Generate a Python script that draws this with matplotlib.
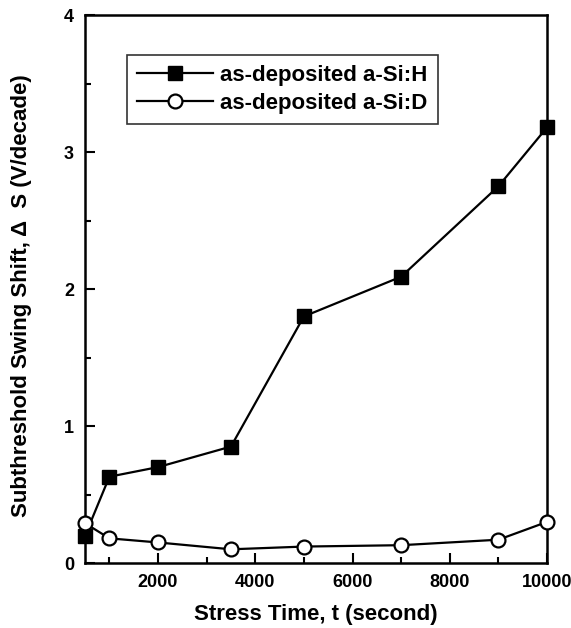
import matplotlib
matplotlib.use('Agg')
import matplotlib.pyplot as plt
from matplotlib.ticker import MultipleLocator

plt.rcParams['font.family'] = ['Liberation Sans', 'DejaVu Sans']
plt.rcParams['font.weight'] = 'bold'

# stress time (s)
stress_time = [500, 1000, 2000, 3500, 5000, 7000, 9000, 10000]
# subthreshold swing shift (V/decade)
shift_sih = [0.20, 0.63, 0.70, 0.85, 1.80, 2.09, 2.75, 3.18]
shift_sid = [0.29, 0.18, 0.15, 0.10, 0.12, 0.13, 0.17, 0.30]
labels = ['as-deposited a-Si:H', 'as-deposited a-Si:D']

fig = plt.figure(figsize=(5.71, 6.28), dpi=100)
ax = fig.add_axes([0.149, 0.1035, 0.809, 0.8725])

ax.plot(stress_time, shift_sih, '-s', color='black', lw=1.6, ms=10,
        mfc='black', label=labels[0], clip_on=False, zorder=3)
ax.plot(stress_time, shift_sid, '-o', color='black', lw=1.6, ms=10,
        mfc='white', mew=1.6, label=labels[1], clip_on=False, zorder=3)

ax.set_xlim(500, 10000)
ax.set_ylim(0, 4)
ax.xaxis.set_major_locator(MultipleLocator(2000))
ax.xaxis.set_minor_locator(MultipleLocator(1000))
ax.yaxis.set_major_locator(MultipleLocator(1))
ax.yaxis.set_minor_locator(MultipleLocator(0.5))
ax.tick_params(which='both', direction='in', width=1.5)
ax.tick_params(which='major', length=7, labelsize=13, pad=8)
ax.tick_params(which='minor', length=4)
for s in ax.spines.values():
    s.set_linewidth(1.8)

ax.set_xlabel('Stress Time, t (second)', fontsize=16, fontweight='bold', labelpad=9)
ax.set_ylabel('Subthreshold Swing Shift, \u0394  S (V/decade)', fontsize=16,
              fontweight='bold')
ax.yaxis.set_label_coords(-0.115, 0.488)

leg = ax.legend(loc='upper left', bbox_to_anchor=(0.091, 0.927), borderaxespad=0,
                fontsize=16, frameon=True, fancybox=False, edgecolor='black',
                handlelength=3.4, handletextpad=0.35, borderpad=0.45,
                labelspacing=0.3)
leg.get_frame().set_linewidth(1.2)

fig.savefig('out.png', dpi=100)
